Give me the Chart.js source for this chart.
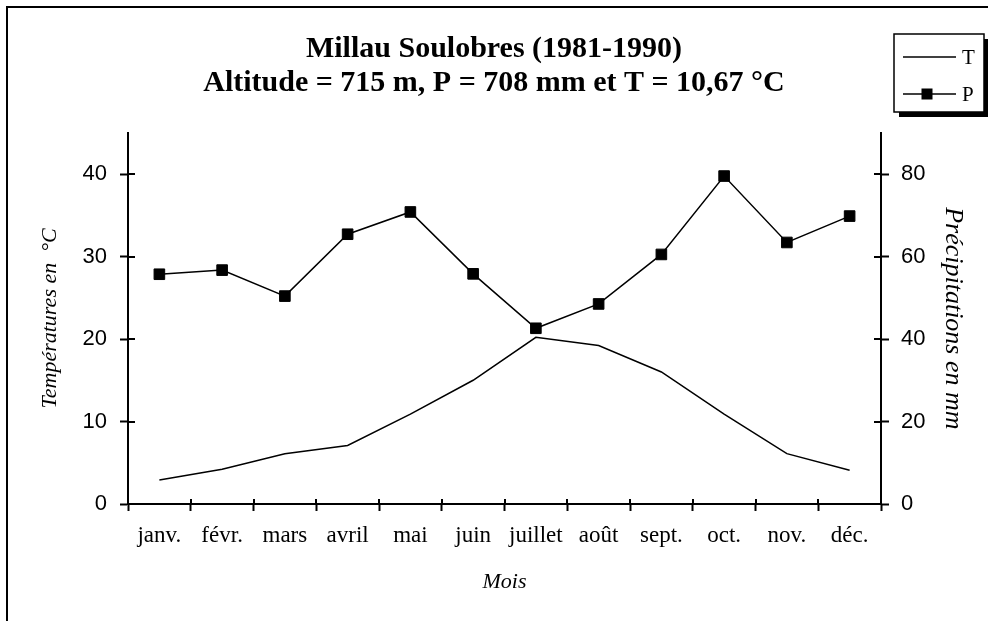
<!DOCTYPE html>
<html lang="fr">
<head>
<meta charset="utf-8">
<title>Millau Soulobres (1981-1990)</title>
<script src="https://cdn.jsdelivr.net/npm/chart.js@4.4.0/dist/chart.umd.min.js"></script>
<style>
  html, body { margin: 0; padding: 0; background: #fff; }
  canvas { display: block; }
</style>
</head>
<body>
<canvas id="climateChart" width="988" height="621"></canvas>
<script>
// monthly normals
const months = ['janv.', 'févr.', 'mars', 'avril', 'mai', 'juin', 'juillet', 'août', 'sept.', 'oct.', 'nov.', 'déc.'];
const temperature = [2.9, 4.2, 6.1, 7.1, 10.9, 15.0, 20.2, 19.2, 16.0, 10.9, 6.1, 4.1];
const precipitation = [55.7, 56.7, 50.4, 65.4, 70.8, 55.8, 42.6, 48.5, 60.5, 79.5, 63.4, 69.8];
const tempTicks = [0, 10, 20, 30, 40];
const rainTicks = [0, 20, 40, 60, 80];
const titleLines = ['Millau Soulobres (1981-1990)', 'Altitude = 715 m, P = 708 mm et T = 10,67 °C'];

const SERIF = "'Liberation Serif', 'Times New Roman', serif";
const SANS = "'Liberation Sans', Arial, sans-serif";

// white page + the outer frame (runs off the right/bottom edge like the original)
const framePlugin = {
  id: 'frame',
  beforeDraw(chart) {
    const ctx = chart.ctx;
    ctx.save();
    ctx.fillStyle = '#fff';
    ctx.fillRect(0, 0, chart.width, chart.height);
    ctx.strokeStyle = '#000';
    ctx.lineWidth = 2;
    ctx.strokeRect(7, 7, chart.width + 20, chart.height + 20);
    ctx.restore();
  }
};

// Excel style ticks cross the axis: add the part inside the plot
const innerTicks = {
  id: 'innerTicks',
  afterDraw(chart) {
    const ctx = chart.ctx;
    const { left, right, bottom } = chart.chartArea;
    const sx = chart.scales.x, sy = chart.scales.y, sy1 = chart.scales.y1;
    ctx.save();
    ctx.strokeStyle = '#000';
    ctx.lineWidth = 2;
    ctx.beginPath();
    sy.ticks.forEach(t => {
      const py = Math.round(sy.getPixelForValue(t.value));
      ctx.moveTo(left, py); ctx.lineTo(left + 7, py);
    });
    sy1.ticks.forEach(t => {
      const py = Math.round(sy1.getPixelForValue(t.value));
      ctx.moveTo(right - 7, py); ctx.lineTo(right, py);
    });
    for (let i = 0; i <= months.length; i++) {
      const px = Math.round(sx.getPixelForValue(i - 0.5));
      ctx.moveTo(px, bottom - 5); ctx.lineTo(px, bottom);
    }
    ctx.stroke();
    ctx.restore();
  }
};

// boxed legend with drop shadow, top right
const boxLegend = {
  id: 'boxLegend',
  afterDraw(chart) {
    const ctx = chart.ctx;
    const x = 894, y = 34, w = 90, h = 78;
    ctx.save();
    ctx.fillStyle = '#000';
    ctx.fillRect(x + 5, y + 5, w, h);
    ctx.fillStyle = '#fff';
    ctx.fillRect(x, y, w, h);
    ctx.strokeStyle = '#000';
    ctx.lineWidth = 1.5;
    ctx.strokeRect(x, y, w, h);
    ctx.font = '21px ' + SERIF;
    ctx.textBaseline = 'middle';
    chart.data.datasets.forEach((ds, i) => {
      const ly = y + 23 + i * 37;
      ctx.strokeStyle = ds.borderColor;
      ctx.lineWidth = ds.borderWidth;
      ctx.beginPath();
      ctx.moveTo(x + 9, ly);
      ctx.lineTo(x + 62, ly);
      ctx.stroke();
      if (ds.pointRadius > 0) {
        ctx.fillStyle = ds.backgroundColor;
        ctx.fillRect(x + 33 - 5.5, ly - 5.5, 11, 11);
      }
      ctx.fillStyle = '#000';
      ctx.fillText(ds.label, x + 68, ly + 1);
    });
    ctx.restore();
  }
};

const axisGrid = { drawOnChartArea: false, color: '#000', tickColor: '#000', tickLength: 8, tickWidth: 2 };
const axisBorder = { color: '#000', width: 2 };

new Chart(document.getElementById('climateChart'), {
  type: 'line',
  data: {
    labels: months,
    datasets: [
      {
        label: 'T',
        data: temperature,
        yAxisID: 'y',
        borderColor: '#000',
        backgroundColor: '#000',
        borderWidth: 1.5,
        pointRadius: 0,
        tension: 0
      },
      {
        label: 'P',
        data: precipitation,
        yAxisID: 'y1',
        borderColor: '#000',
        backgroundColor: '#000',
        borderWidth: 1.5,
        pointStyle: 'rect',
        pointRadius: 7.5,
        pointBorderWidth: 1,
        tension: 0
      }
    ]
  },
  options: {
    responsive: false,
    animation: false,
    layout: { padding: 0 },
    plugins: {
      legend: { display: false },
      tooltip: { enabled: false },
      title: {
        display: true,
        text: titleLines,
        color: '#000',
        font: { family: SERIF, size: 30, weight: 'bold', lineHeight: '34px' },
        padding: { top: 32.5, bottom: 32.25 }
      }
    },
    scales: {
      x: {
        offset: true,
        grid: { ...axisGrid, offset: true, tickLength: 7 },
        border: axisBorder,
        ticks: { color: '#000', font: { family: SERIF, size: 23 }, padding: 11, maxRotation: 0, autoSkip: false },
        title: {
          display: true,
          text: 'Mois',
          color: '#000',
          font: { family: SERIF, size: 22, style: 'italic' },
          padding: { top: 0, bottom: 26 }
        },
        afterFit(scale) { scale.height = 117; }
      },
      y: {
        position: 'left',
        min: 0,
        max: 45,
        afterBuildTicks(scale) { scale.ticks = tempTicks.map(v => ({ value: v })); },
        grid: axisGrid,
        border: axisBorder,
        ticks: { color: '#000', font: { family: SANS, size: 22 }, padding: 13 },
        title: {
          display: true,
          text: 'Températures en  °C',
          color: '#000',
          font: { family: SERIF, size: 22, style: 'italic' },
          padding: { top: 37, bottom: 0 }
        },
        afterFit(scale) { scale.width = 128; }
      },
      y1: {
        position: 'right',
        min: 0,
        max: 90,
        afterBuildTicks(scale) { scale.ticks = rainTicks.map(v => ({ value: v })); },
        grid: axisGrid,
        border: axisBorder,
        ticks: { color: '#000', font: { family: SANS, size: 22 }, padding: 12 },
        title: {
          display: true,
          text: 'Précipitations en mm',
          color: '#000',
          font: { family: SERIF, size: 26, style: 'italic' },
          padding: { top: 20, bottom: 0 }
        },
        afterFit(scale) { scale.width = 107; }
      }
    }
  },
  plugins: [framePlugin, innerTicks, boxLegend]
});
</script>
</body>
</html>
